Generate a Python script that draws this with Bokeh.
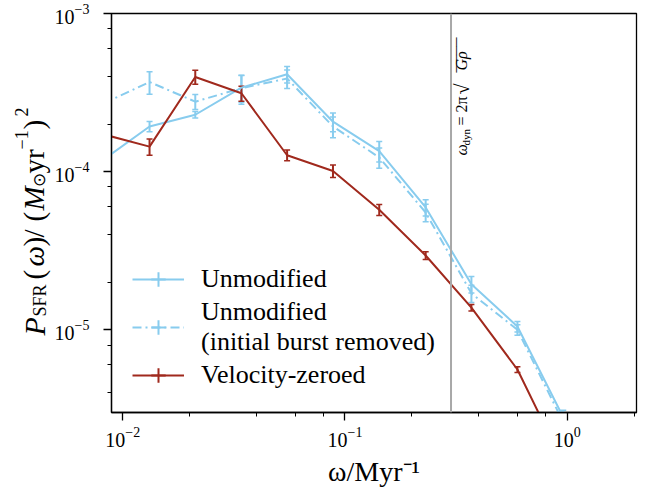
import math
from bokeh.plotting import figure
from bokeh.layouts import row
from bokeh.models import (ColumnDataSource, Whisker, TeeHead, Span, Label, Legend,
                          LegendItem, LogTicker, Range1d)
from bokeh.embed import file_html
from bokeh.resources import INLINE

# ---- data ----
omega = [0.0082, 0.0132, 0.0212, 0.0342, 0.0549, 0.0883, 0.1426, 0.2307, 0.3706, 0.597, 0.96]

p_unmod = [1.19e-4, 1.93e-4, 2.29e-4, 3.40e-4, 4.13e-4, 2.07e-4, 1.35e-4, 5.94e-5, 1.94e-5, 1.05e-5, 2.8e-6]
e_unmod = [1.0e-5, 1.45e-5, 1.1e-5, 6.5e-5, 5.0e-5, 2.8e-5, 2.0e-5, 7.0e-6, 2.3e-6, 8.0e-7, 3.0e-7]

p_burst = [2.70e-4, 3.69e-4, 2.77e-4, 3.37e-4, 3.88e-4, 1.93e-4, 1.23e-4, 5.52e-5, 1.70e-5, 1.0e-5, 2.6e-6]
e_burst = [4.5e-5, 6.0e-5, 3.0e-5, 7.0e-5, 5.2e-5, 2.9e-5, 1.8e-5, 7.0e-6, 2.1e-6, 7.5e-7, 3.0e-7]

p_vel = [1.72e-4, 1.44e-4, 3.97e-4, 3.13e-4, 1.27e-4, 1.01e-4, 5.74e-5, 2.95e-5, 1.38e-5, 5.61e-6, 1.43e-6]
e_vel = [2.0e-5, 1.7e-5, 4.0e-5, 3.4e-5, 1.0e-5, 9.0e-6, 4.5e-6, 1.7e-6, 6.5e-7, 2.4e-7, 1.0e-7]

omega_dyn = 0.30

series_labels = ["Unmodified", "Unmodified\n(initial burst removed)", "Velocity-zeroed"]
x_label = "ω/Myr⁻¹"

BLUE = "#88CCEE"
RED = "#A0291D"
SERIF = "Liberation Serif"

H = 489          # total height of the plot
LW = 51          # width of the strip holding the y-axis label
TOP, BOT = 13, 74

p = figure(width=597, height=H, x_axis_type="log", y_axis_type="log",
           x_range=(0.0089, 2.05), y_range=(3.0e-6, 1.0e-3),
           output_backend="svg", toolbar_location=None,
           min_border_left=58, min_border_right=12, min_border_top=TOP, min_border_bottom=BOT)

p.xgrid.visible = False
p.ygrid.visible = False
p.outline_line_color = "black"
p.outline_line_width = 1.3
p.background_fill_color = "white"

for ax in (p.xaxis[0], p.yaxis[0]):
    ax.axis_line_width = 1.3
    ax.major_tick_line_width = 1.3
    ax.minor_tick_line_width = 1.0
    ax.major_tick_in = 0
    ax.minor_tick_in = 0
    ax.major_tick_out = 8
    ax.minor_tick_out = 4
    ax.major_label_text_font = SERIF
    ax.major_label_text_font_size = "20px"
    ax.major_label_text_color = "black"
    ax.axis_line_color = "black"
    ax.major_tick_line_color = "black"
    ax.minor_tick_line_color = "black"
p.xaxis.ticker = LogTicker(mantissas=[1])
p.yaxis.ticker = LogTicker(mantissas=[1])
p.xaxis.major_label_standoff = 6
p.yaxis.major_label_standoff = 14

p.xaxis.axis_label = x_label
p.xaxis.axis_label_text_font = SERIF
p.xaxis.axis_label_text_font_size = "28px"
p.xaxis.axis_label_text_font_style = "normal"
p.xaxis.axis_label_text_color = "black"
p.xaxis.axis_label_standoff = 6

# vertical dynamical frequency line
p.add_layout(Span(location=omega_dyn, dimension="height", line_color="#A8A8A8", line_width=2))

def add_series(y, err, color, dash):
    src = ColumnDataSource(dict(x=omega, y=y,
                                upper=[a + b for a, b in zip(y, err)],
                                lower=[a - b for a, b in zip(y, err)]))
    ln = p.line("x", "y", source=src, line_color=color, line_width=2, line_dash=dash)
    w = Whisker(source=src, base="x", upper="upper", lower="lower", dimension="height",
                line_color=color, line_width=2,
                upper_head=TeeHead(size=6, line_color=color, line_width=1.5),
                lower_head=TeeHead(size=6, line_color=color, line_width=1.5))
    p.add_layout(w)
    mk = p.scatter("x", "y", source=src, marker="cross", size=0, line_color=color, line_width=2)
    return ln, mk

r1 = add_series(p_unmod, e_unmod, BLUE, "solid")
r2 = add_series(p_burst, e_burst, BLUE, "9 4 2 4")
r3 = add_series(p_vel, e_vel, RED, "solid")

legend = Legend(items=[LegendItem(label=series_labels[0], renderers=list(r1)),
                       LegendItem(label=series_labels[1], renderers=list(r2)),
                       LegendItem(label=series_labels[2], renderers=list(r3))],
                location=(21, 19), glyph_width=52, glyph_height=36, label_standoff=17,
                padding=0, spacing=0, margin=0,
                label_text_font=SERIF, label_text_font_size="26px",
                label_text_color="black",
                background_fill_alpha=0, border_line_alpha=0)
p.add_layout(legend)

R = math.pi / 2
FL, FB = LW + 58, H - BOT   # frame left / bottom in page pixels

def frame_piece(text, px, py, size, style="normal", angle=R):
    # px: page x of the text's middle line, py: page y of the start of the text
    p.add_layout(Label(x=px - FL, y=FB - py, x_units="screen", y_units="screen",
                       text=text, angle=angle, text_font=SERIF, text_font_size=f"{size}px",
                       text_font_style=style, text_color="black",
                       text_align="left", text_baseline="middle"))

# annotation next to the vertical line: ω_dyn = 2π √(Gρ)
frame_piece("ω", 458.6, 158, 16, "italic")
frame_piece("dyn", 463.3, 148, 11)
frame_piece("= 2π", 458.6, 128, 16)
frame_piece("√", 459.0, 97, 20)
frame_piece("Gρ", 458.6, 73, 16, "italic")
frame_piece("____", 446.0, 75, 17.5)

# ---- strip with the y-axis label P_SFR(ω)/(M_⊙ yr^-1)^2 ----
ylab = figure(width=LW, height=H, x_range=Range1d(0, LW), y_range=Range1d(0, H - TOP - BOT),
              output_backend="svg", toolbar_location=None,
              x_axis_location=None, y_axis_location=None,
              min_border=0, min_border_left=0, min_border_right=0,
              min_border_top=TOP, min_border_bottom=BOT)
ylab.outline_line_color = None
ylab.xgrid.visible = False
ylab.ygrid.visible = False

def ypiece(text, px, py, size, style="normal"):
    ylab.add_layout(Label(x=px, y=FB - py, x_units="screen", y_units="screen",
                          text=text, angle=R, text_font=SERIF,
                          text_font_size=f"{size}px", text_font_style=style,
                          text_color="black", text_align="left", text_baseline="middle"))

ypiece("P", 33.5, 338, 30, "italic")
ypiece("SFR", 39.5, 319, 18)
ypiece("(", 33.5, 282, 29)
ypiece("ω", 33.5, 269, 29, "italic")
ypiece(")", 33.5, 249, 29)
ypiece("/", 33.5, 240, 29)
ypiece("(", 33.5, 224, 29)
ypiece("M", 33.5, 213, 29, "italic")
ypiece("⊙", 39.0, 189, 17)
ypiece("yr", 33.5, 176, 29)
ypiece("−1", 20.5, 152, 18)
ypiece(")", 33.5, 132, 29)
ypiece("2", 20.5, 119, 18)

layout = row(ylab, p, spacing=0)
open("out.html", "w").write(file_html(layout, INLINE))
